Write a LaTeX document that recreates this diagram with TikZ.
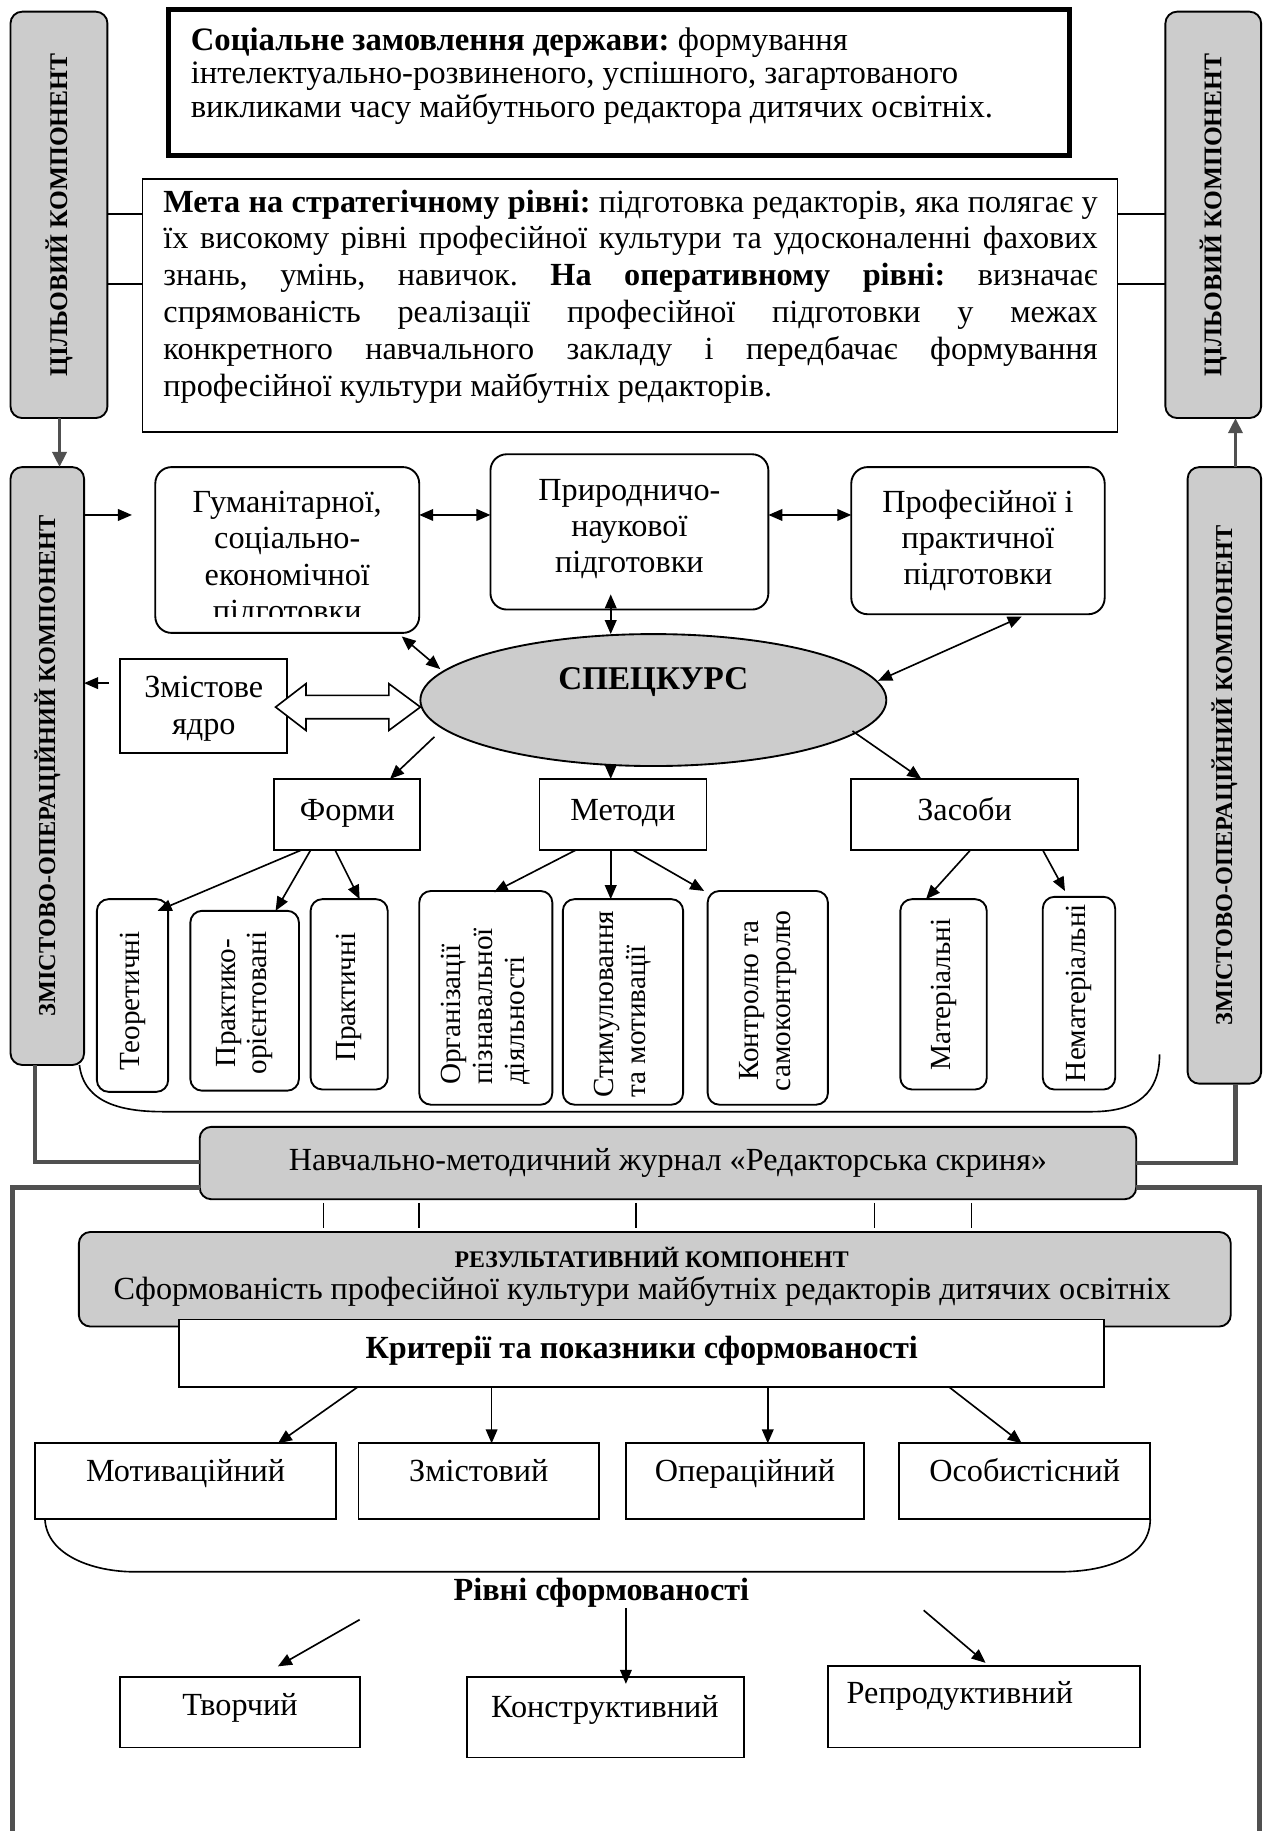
\documentclass[tikz,border=0pt]{standalone}
\usepackage{fontspec}
\setmainfont{Liberation Serif}
\usetikzlibrary{arrows.meta,shapes.geometric}
\definecolor{boxgray}{RGB}{204,204,204}
\definecolor{linegray}{RGB}{80,80,80}
\newcommand\fsz[2]{\fontsize{#1}{#2}\selectfont}
\frenchspacing
\makeatletter
\newcommand\mkbox[6]{%
  \expandafter\xdef\csname bx@#1@x\endcsname{#2}%
  \expandafter\xdef\csname bx@#1@y\endcsname{#3}%
  \node[#6,minimum width={(#4-#2)*0.5pt},minimum height={(#5-#3)*0.5pt},inner sep=0pt,outer sep=0pt] (#1) at ({(#2+#4)/2},{(#3+#5)/2}) {};}
\newcommand\atb[3]{([shift={({#2-\csname bx@#1@x\endcsname},{#3-\csname bx@#1@y\endcsname})}]#1.north west)}
\newcommand\ate[2]{([shift={({#1-559.5},{#2-599.5})}]el.center)}
\makeatother
\tikzset{
  Tr/.tip={Triangle[length=6pt,width=5pt]},
  sqbox/.style={draw, line width=0.8pt, fill=white},
  rbox/.style={draw, line width=0.8pt, fill=white, rounded corners=7pt},
  vbox/.style={draw, line width=0.8pt, fill=white, rounded corners=5pt},
  gbox/.style={draw, line width=0.8pt, fill=boxgray, rounded corners=5pt},
  txt/.style={inner sep=0pt, font=\fsz{13.8}{15.5}, align=center},
  one/.style={inner sep=0pt, font=\fsz{13.8}{15.5}, text height=9.5pt, text depth=3pt},
  vtxt/.style={inner sep=0pt, font=\fsz{12.5}{13.6}, align=center, rotate=90},
  sidetxt/.style={inner sep=0pt, font=\fsz{10.4}{12}\bfseries, rotate=90},
  arr/.style={-Tr, line width=0.7pt},
  darr/.style={Tr-Tr, line width=0.7pt},
  thinl/.style={line width=0.7pt},
  gline/.style={draw=linegray, line width=2pt},
  garr/.style={draw=linegray, line width=1.6pt, -{Triangle[length=6.5pt,width=6pt,fill=linegray]}},
}
\begin{document}
\begin{tikzpicture}[x=0.5pt,y=-0.5pt]
\useasboundingbox (0,0) rectangle (1082,1568);
\fill[white] (0,0) rectangle (1082,1568);

% side boxes
\mkbox{lt}{9}{10}{92}{358}{gbox}
\node[sidetxt, font=\fsz{10.9}{12}\bfseries] (lt-t) at (lt.center) {ЦІЛЬОВИЙ КОМПОНЕНТ};
\mkbox{rt}{998}{10}{1080}{358}{gbox}
\node[sidetxt, font=\fsz{10.9}{12}\bfseries] (rt-t) at (rt.center) {ЦІЛЬОВИЙ КОМПОНЕНТ};
\mkbox{lb}{9}{400}{72}{912}{gbox}
\node[sidetxt] (lb-t) at (lb.center) {ЗМІСТОВО-ОПЕРАЦІЙНИЙ КОМПОНЕНТ};
\mkbox{rb}{1017}{400}{1080}{928}{gbox}
\node[sidetxt] (rb-t) at (rb.center) {ЗМІСТОВО-ОПЕРАЦІЙНИЙ КОМПОНЕНТ};

% top box
\mkbox{soc}{144}{8}{916}{133}{draw, line width=2.2pt, fill=white}
\node[anchor=north west, inner sep=0pt, align=left, font=\fsz{14}{14.5}] (soc-t) at (163,23)
 {\textbf{Соціальне замовлення держави:} формування\\інтелектуально-розвиненого, успішного, загартованого\\викликами часу майбутнього редактора дитячих освітніх.};

% goal box
\mkbox{meta}{122}{153}{957}{370}{sqbox}
\node[inner sep=0pt, align=left, font=\fsz{13.8}{15.8}] (meta-t) at (540,254) {%
\makebox[400pt][s]{\textbf{Мета на стратегічному рівні:} підготовка редакторів, яка полягає у}\\
\makebox[400pt][s]{їх високому рівні професійної культури та удосконаленні фахових}\\
\makebox[400pt][s]{знань, умінь, навичок. \textbf{На оперативному рівні:} визначає}\\
\makebox[400pt][s]{спрямованість реалізації професійної підготовки у межах}\\
\makebox[400pt][s]{конкретного навчального закладу і передбачає формування}\\
професійної культури майбутніх редакторів.};

\draw[thinl] \atb{lt}{92}{183} -- \atb{meta}{122}{183};
\draw[thinl] \atb{lt}{92}{243} -- \atb{meta}{122}{243};
\draw[thinl] \atb{meta}{957}{183} -- \atb{rt}{998}{183};
\draw[thinl] \atb{meta}{957}{243} -- \atb{rt}{998}{243};
\draw[garr] \atb{lt}{51}{358} -- \atb{lb}{51}{400};
\draw[garr] \atb{rb}{1058}{400} -- \atb{rt}{1058}{358};

% upper row
\mkbox{hum}{133}{400}{359}{542}{rbox}
\begin{scope}
\clip (133,400) rectangle (359,528);
\node[txt] (hum-t) at (246,479) {Гуманітарної,\\соціально-\\економічної\\підготовки};
\end{scope}
\mkbox{nat}{420}{389}{658}{522}{rbox}
\node[txt] (nat-t) at (539,453) {Природничо-\\наукової\\підготовки};
\mkbox{prof}{729}{400}{946}{526}{rbox}
\node[txt] (prof-t) at (837.5,463) {Професійної і\\практичної\\підготовки};
\draw[darr] \atb{hum}{359}{441} -- \atb{nat}{420}{441};
\draw[darr] \atb{nat}{658}{441} -- \atb{prof}{729}{441};
\draw[arr] \atb{lb}{72}{441} -- \atb{hum}{113}{441};

% ellipse
\node[ellipse, draw, line width=0.8pt, fill=boxgray, minimum width=199.5pt, minimum height=56.5pt, inner sep=0pt, outer sep=0pt] (el) at (559.5,599.5) {};
\node[inner sep=0pt, font=\fsz{14.2}{16}\bfseries] (el-t) at (559.5,584) {СПЕЦКУРС};
\draw[darr] \atb{nat}{523}{509} -- \ate{523}{543};
\draw[darr] \atb{hum}{344}{545} -- \ate{377}{573};
\draw[darr] \atb{prof}{875}{528} -- \ate{752}{583};

% content core
\mkbox{zm}{103}{564}{246}{645}{sqbox}
\node[txt, font=\fsz{13.8}{16}] (zm-t) at (174.5,607) {Змістове\\ядро};
\draw[arr] \atb{zm}{93}{585} -- \atb{lb}{72}{585};
\draw[line width=0.7pt, fill=white] (236,605.5) -- (262,585.5) -- (262,595.5) -- (333,595.5) -- (333,585.5) -- (360,605.5) -- (333,625.5) -- (333,615.5) -- (262,615.5) -- (262,625.5) -- cycle;

% forms, methods, means
\mkbox{forms}{235}{667}{360}{728}{sqbox}
\node[one] (forms-t) at (297.5,696) {Форми};
\mkbox{meth}{462}{667}{605}{728}{sqbox}
\node[one] (meth-t) at (533.5,696) {Методи};
\mkbox{means}{729}{667}{923}{728}{sqbox}
\node[one] (means-t) at (826,696) {Засоби};
\draw[arr] \ate{372}{631} -- \atb{forms}{334}{667};
\draw[arr] \ate{523}{656} -- \atb{meth}{523}{667};
\draw[arr] \ate{730}{626} -- \atb{means}{789}{667};

% bracket 1
\draw[thinl] (68,912) .. controls (72,945) and (105,952) .. (140,952) -- (935,952) .. controls (975,952) and (993,935) .. (993,903);

% vertical boxes
\mkbox{t1}{83}{770}{144}{935}{vbox}
\node[vtxt] (t1-t) at (113.5,857) {Теоретичні};
\mkbox{t2}{163}{780}{256}{934}{vbox}
\node[vtxt] (t2-t) at (209.5,859) {Практико-\\орієнтовані};
\mkbox{t3}{266}{770}{332}{933}{vbox}
\node[vtxt] (t3-t) at (299,854) {Практичні};
\mkbox{m1}{359}{763}{473}{946}{vbox}
\node[vtxt, align=left] (m1-t) at (416,862) {Організації\\пізнавальної\\діяльності};
\mkbox{m2}{482}{770}{585}{946}{vbox}
\node[vtxt, align=left] (m2-t) at (533.5,860) {Стимулювання\\та мотивації};
\mkbox{m3}{606}{763}{709}{946}{vbox}
\node[vtxt] (m3-t) at (657.5,857) {Контролю та\\самоконтролю};
\mkbox{s1}{771}{770}{845}{933}{vbox}
\node[vtxt] (s1-t) at (808,851.5) {Матеріальні};
\mkbox{s2}{893}{768}{955}{933}{vbox}
\node[vtxt] (s2-t) at (924,850.5) {Нематеріальні};

\draw[arr] \atb{forms}{258}{728} -- \atb{t1}{135}{780};
\draw[arr] \atb{forms}{266}{728} -- \atb{t2}{236}{780};
\draw[arr] \atb{forms}{287}{728} -- \atb{t3}{308}{770};
\draw[arr] \atb{meth}{493}{728} -- \atb{m1}{423}{764};
\draw[arr] \atb{meth}{523}{728} -- \atb{m2}{523}{770};
\draw[arr] \atb{meth}{542}{728} -- \atb{m3}{603}{763};
\draw[arr] \atb{means}{831}{728} -- \atb{s1}{793}{770};
\draw[arr] \atb{means}{893}{728} -- \atb{s2}{912}{763};

% journal
\mkbox{jr}{171}{965}{973}{1027}{gbox}
\node[one] (jr-t) at (jr.center) {Навчально-методичний журнал «Редакторська скриня»};
\draw[gline] \atb{lb}{30}{912} |- \atb{jr}{171}{995};
\draw[gline] \atb{jr}{973}{996} -| \atb{rb}{1058}{928};
\coordinate (fl) at (10.5,1580);
\coordinate (fr) at (1078.5,1580);
\draw[gline] \atb{jr}{171}{1017} -| (fl);
\draw[gline] \atb{jr}{973}{1017} -| (fr);

% result component
\mkbox{res}{67.5}{1055}{1054}{1136}{gbox}
\node[inner sep=0pt, font=\fsz{10.2}{12}\bfseries] (res-t1) at (558,1077) {РЕЗУЛЬТАТИВНИЙ КОМПОНЕНТ};
\node[one] (res-t2) at (550,1106) {Сформованість професійної культури майбутніх редакторів дитячих освітніх};
\foreach \xx in {277,359,544.5,749,832} { \draw[thinl] \atb{jr}{\xx}{1030} -- \atb{res}{\xx}{1052}; }

\mkbox{crit}{153}{1130}{945.5}{1188}{sqbox}
\node[one, font=\fsz{13.8}{15}\bfseries] (crit-t) at (549.5,1157) {Критерії та показники сформованості};

\mkbox{c1}{30}{1236}{288}{1301}{sqbox}
\node[one] (c1-t) at (159,1262) {Мотиваційний};
\mkbox{c2}{307}{1236}{513}{1301}{sqbox}
\node[one] (c2-t) at (410,1262) {Змістовий};
\mkbox{c3}{536}{1236}{740}{1301}{sqbox}
\node[one] (c3-t) at (638,1262) {Операційний};
\mkbox{c4}{770}{1236}{985}{1301}{sqbox}
\node[one] (c4-t) at (877.5,1262) {Особистісний};
\draw[arr] \atb{crit}{306}{1188} -- \atb{c1}{238}{1236};
\draw[arr] \atb{crit}{421}{1188} -- \atb{c2}{421}{1236};
\draw[arr] \atb{crit}{657.5}{1188} -- \atb{c3}{657.5}{1236};
\draw[arr] \atb{crit}{813}{1188} -- \atb{c4}{875}{1236};

% bracket 2
\draw[thinl] (38.5,1301) .. controls (40,1332) and (80,1346) .. (115,1346) -- (907,1346) .. controls (950,1346) and (985,1332) .. (985,1301);
\node[one, font=\fsz{13.8}{15}\bfseries] (lev-t) at (515,1364) {Рівні сформованості};

% levels
\mkbox{l1}{103}{1436}{308}{1496.5}{sqbox}
\node[one] (l1-t) at (205.5,1463) {Творчий};
\mkbox{l2}{400}{1436}{637}{1505}{sqbox}
\node[one] (l2-t) at (518,1464) {Конструктивний};
\mkbox{l3}{709}{1427}{976}{1496.5}{sqbox}
\node[one] (l3-t) at (822,1452) {Репродуктивний};
\coordinate (a1) at (308,1387);
\coordinate (a2) at (536,1377);
\coordinate (a3) at (791,1379);
\draw[arr] (a1) -- \atb{l1}{238}{1427};
\draw[arr] (a2) -- \atb{l2}{536}{1442};
\draw[arr] (a3) -- \atb{l3}{844}{1424};
\end{tikzpicture}
\end{document}
